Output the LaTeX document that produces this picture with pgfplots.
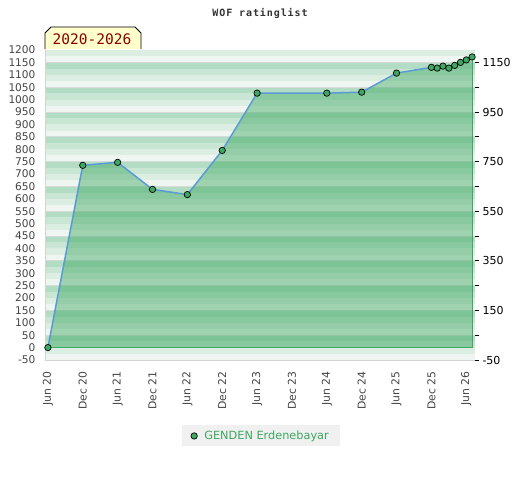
\documentclass[border=0pt]{standalone}
\usepackage{fontspec}
\setmainfont{DejaVu Sans}
\newfontfamily\monofont{DejaVu Sans Mono}
\usepackage{pgfplots}
\pgfplotsset{compat=1.18}
\definecolor{bandA}{HTML}{B2DCC3}
\definecolor{bandB}{HTML}{C9E6D4}
\definecolor{bandC}{HTML}{DCEDE2}
\definecolor{bandD}{HTML}{EFF6F1}
\definecolor{gridgray}{HTML}{D6DBD8}
\definecolor{bordergray}{HTML}{D3D3D3}
\definecolor{areagreen}{HTML}{36A45A}
\definecolor{edgegreen}{HTML}{3AAA5E}
\definecolor{lineblue}{HTML}{5B9BD5}
\definecolor{markgreen}{HTML}{3DA861}
\definecolor{tickgray}{HTML}{444444}
\definecolor{legendtext}{HTML}{3CA860}
\definecolor{legendbg}{HTML}{F0F0F0}
\definecolor{boxyellow}{HTML}{FFFFCC}
\definecolor{yeartext}{HTML}{8B0000}
\definecolor{titlegray}{HTML}{333333}
\begin{document}
\begin{tikzpicture}
\useasboundingbox (0bp,0bp) rectangle (520bp,-480bp);
\begin{axis}[
  at={(45bp,-360bp)}, anchor=south west,
  scale only axis, width=430bp, height=310bp,
  xmin=-0.5, xmax=73.5, ymin=-50, ymax=1200,
  axis line style={draw=none},
  ytick={-50,0,...,1200}, ytick style={draw=none}, ytick pos=left,
  xtick={0,6,...,72}, xtick style={draw=none}, xtick pos=bottom,
  xticklabels={Jun 20,Dec 20,Jun 21,Dec 21,Jun 22,Dec 22,Jun 23,Dec 23,Jun 24,Dec 24,Jun 25,Dec 25,Jun 26},
  xticklabel style={rotate=90, anchor=east, font=\fontsize{10.8bp}{12bp}\selectfont, text=tickgray},
  xticklabel shift=8bp,
  yticklabel style={font=\fontsize{10.6bp}{12bp}\selectfont, text=tickgray},
  yticklabel shift=6bp,
  /pgf/number format/assume math mode=true,
  /pgf/number format/1000 sep={},
  clip=true,
  legend style={at={(0.502,-0.245)}, anchor=center, fill=legendbg, draw=none,
    font=\fontsize{11.3bp}{13bp}\selectfont, text=legendtext,
    inner xsep=9bp, inner ysep=3.5bp},
]
\pgfplotsinvokeforeach{-50,50,150,250,350,450,550,650,750,850,950,1050,1150}{
  \fill[bandD] (axis cs:-0.5,#1) rectangle (axis cs:73.5,{#1+25});
  \fill[bandC] (axis cs:-0.5,{#1+25}) rectangle (axis cs:73.5,{#1+50});
  \fill[bandB] (axis cs:-0.5,{#1+50}) rectangle (axis cs:73.5,{#1+75});
  \fill[bandA] (axis cs:-0.5,{#1+75}) rectangle (axis cs:73.5,{#1+100});
  \draw[gridgray, line width=0.8bp] (axis cs:-0.5,#1) -- (axis cs:73.5,#1);
}
\draw[bordergray, line width=1bp] (axis cs:-0.5,1200) -- (axis cs:-0.5,-50) -- (axis cs:73.5,-50);
\addlegendimage{only marks, mark=*, mark size=3.2bp, mark options={fill=markgreen, draw=black, line width=0.7bp}}
\addlegendentry{\hspace{5bp}GENDEN Erdenebayar}
\addplot[forget plot, draw=none, fill=areagreen, fill opacity=0.43] coordinates {
 (0,0) (6,735) (12,747) (18,638) (24,617) (30,795) (36,1026) (48,1026) (54,1030) (60,1107)
 (66,1130) (67,1127) (68,1135) (69,1127) (70,1138) (71,1150) (72,1160) (73,1172) (73,0) (0,0)} -- cycle;
\addplot[forget plot, edgegreen, line width=1bp] coordinates {(73,1172) (73,0) (0,0)};
\addplot[forget plot, color=lineblue, line width=1.5bp, mark=*, mark size=3.2bp,
  mark options={fill=markgreen, draw=black, line width=0.7bp}] coordinates {
 (0,0) (6,735) (12,747) (18,638) (24,617) (30,795) (36,1026) (48,1026) (54,1030) (60,1107)
 (66,1130) (67,1127) (68,1135) (69,1127) (70,1138) (71,1150) (72,1160) (73,1172)};
\end{axis}
\begin{axis}[
  at={(45bp,-360bp)}, anchor=south west,
  scale only axis, width=430bp, height=310bp,
  xmin=-0.5, xmax=73.5, ymin=-50, ymax=1200,
  axis x line=none, axis y line*=right,
  axis line style={draw=none},
  ytick={-50,150,350,550,750,950,1150},
  minor ytick={50,250,450,650,850,1050},
  tick align=outside, major tick length=4bp, minor tick length=4bp,
  tick style={black, line width=0.7bp},
  yticklabel style={font=\fontsize{11bp}{12bp}\selectfont, text=black},
  /pgf/number format/assume math mode=true,
  /pgf/number format/1000 sep={},
]
\addplot[draw=none] coordinates {(0,0)};
\end{axis}
\node[font=\monofont\bfseries\fontsize{10bp}{12bp}\selectfont\addfontfeature{LetterSpace=9}, text=titlegray] at (260bp,-13bp) {WOF ratinglist};
\filldraw[fill=boxyellow, draw=black, line width=0.8bp] (45bp,-49bp) -- (45bp,-33bp) -- (51bp,-27bp) -- (135bp,-27bp) -- (141bp,-33bp) -- (141bp,-49bp);
\node[font=\monofont\fontsize{14.5bp}{16bp}\selectfont, text=yeartext] at (92bp,-39bp) {2020-2026};
\end{tikzpicture}
\end{document}
